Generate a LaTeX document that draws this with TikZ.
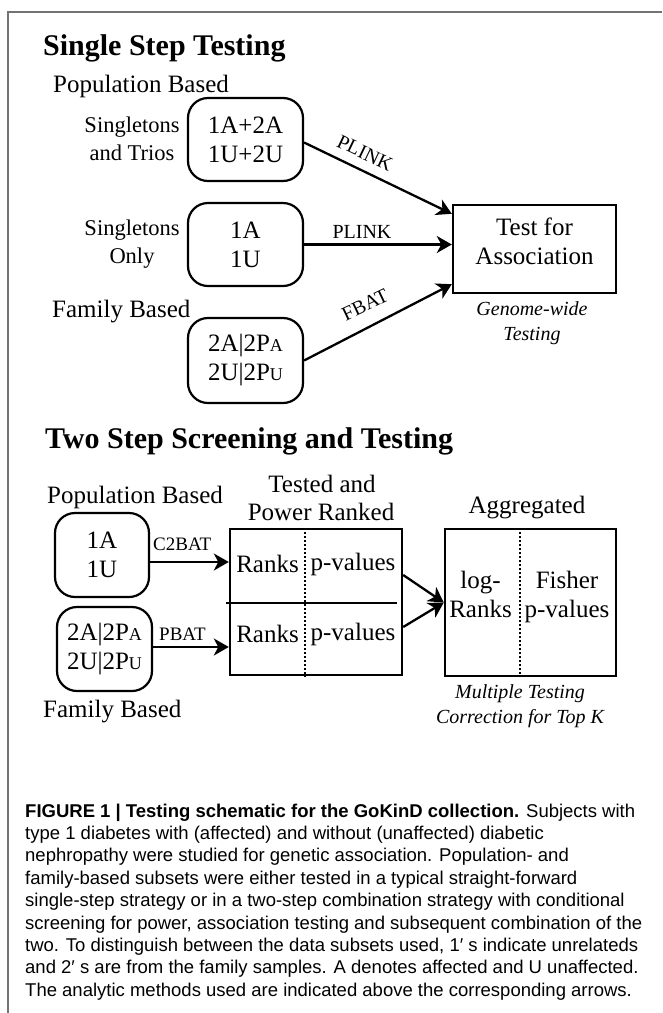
\documentclass[tikz,border=0pt]{standalone}
\usepackage{fontspec}
\setmainfont{Liberation Serif}
\newfontfamily\capfont{Liberation Sans}
\usetikzlibrary{arrows.meta}
\newcommand\mysmallcap[1]{{\fontsize{18}{18}\selectfont #1}}
\begin{document}
\begin{tikzpicture}[x=1pt,y=-1pt,
  titlefont/.style={font=\fontsize{30}{36}\selectfont\bfseries, inner sep=0pt},
  bigtext/.style={font=\fontsize{25}{30}\selectfont, inner sep=0pt},
  sidetext/.style={font=\fontsize{22.5}{28}\selectfont, inner sep=0pt},
  smalltext/.style={font=\fontsize{20}{24}\selectfont, inner sep=0pt},
  methodtext/.style={font=\fontsize{19}{22}\selectfont, inner sep=0pt},
  italtext/.style={font=\fontsize{20}{24}\selectfont\itshape, inner sep=0pt},
  captext/.style={font=\capfont\fontsize{18.5}{22}\selectfont, inner sep=0pt, anchor=base west},
  rbox/.style={draw, line width=2.2pt, rounded corners=20pt, align=center,
     font=\fontsize{25}{29}\selectfont, inner sep=2pt},
  sqbox/.style={draw, line width=2.4pt, inner sep=0pt},
  arr/.style={line width=2.3pt, -{Stealth[length=15pt,width=17pt,inset=4.5pt]}},
  plainline/.style={line width=2.3pt},
  dotline/.style={line width=1.6pt, dash pattern=on 2pt off 2pt},
  frameline/.style={draw=black!55, line width=1.3pt}
]
\useasboundingbox (0,0) rectangle (662,1013);
\fill[white] (0,0) rectangle (662,1013);
\draw[frameline] (662,12) -- (8,12) -- (8,1013);

% ---------- Single step testing ----------
\node[titlefont, anchor=base west] (t1) at (43,55) {Single Step Testing};
\node[bigtext, anchor=base west] (pop1) at (53,92) {Population Based};

\node[rbox, minimum width=115pt, minimum height=83pt] (b1) at (245.5,139.5) {1A+2A\\1U+2U};
\node[sidetext, anchor=base] (s1a) at (132,132) {Singletons};
\node[sidetext, anchor=base] (s1b) at (132,160) {and Trios};

\node[rbox, minimum width=115pt, minimum height=83pt] (b2) at (245.5,244.5) {1A\\1U};
\node[sidetext, anchor=base] (s2a) at (132,235) {Singletons};
\node[sidetext, anchor=base] (s2b) at (132,263) {Only};

\node[bigtext, anchor=base west] (fam1) at (52,317) {Family Based};
\node[rbox, minimum width=115pt, minimum height=85pt] (b3) at (245.5,360.5)
  {2A|2P\mysmallcap{A}\\2U|2P\mysmallcap{U}};

\node[sqbox, minimum width=163pt, minimum height=88pt] (test) at (534.5,249) {};
\node[bigtext, anchor=base] (test1) at (534.5,235) {Test for};
\node[bigtext, anchor=base] (test2) at (534.5,264) {Association};
\node[italtext, anchor=base] (gw1) at (532,315) {Genome-wide};
\node[italtext, anchor=base] (gw2) at (532,340) {Testing};

\coordinate (c1) at ([yshift=-3pt]b1.east);
\draw[arr] (c1) -- ([yshift=-10pt]test.north west);
\node[smalltext, rotate=-25.6] (l1) at (365,153) {PLINK};
\draw[arr] (b2.east) -- (b2.east -| test.west);
\node[smalltext, anchor=base] (l2) at (362,238) {PLINK};
\draw[arr] (b3.east) -- ([yshift=10pt]test.south west);
\node[smalltext, rotate=25.6] (l3) at (365,305) {FBAT};

% ---------- Two step screening and testing ----------
\node[titlefont, anchor=base west] (t2) at (45,448) {Two Step Screening and Testing};
\node[bigtext, anchor=base west] (pop2) at (47,503) {Population Based};
\node[rbox, minimum width=94pt, minimum height=84pt] (b4) at (102,555) {1A\\1U};
\node[rbox, minimum width=95pt, minimum height=84pt, inner sep=0pt] (b5) at (104.5,649)
  {2A|2P\mysmallcap{A}\\2U|2P\mysmallcap{U}};
\node[bigtext, anchor=base west] (fam2) at (43,717) {Family Based};

\node[sqbox, minimum width=172pt, minimum height=146pt] (tested) at (316,602) {};
\node[bigtext, anchor=base] (tn1) at (322,492) {Tested and};
\node[bigtext, anchor=base] (tn2) at (321,520) {Power Ranked};
\draw[plainline] ([xshift=-3pt,yshift=-1pt]tested.west) -- ([xshift=-6pt,yshift=-1pt]tested.east);
\draw[dotline] ([xshift=-11pt]tested.north) -- ([xshift=-11pt]tested.south);
\node[bigtext, anchor=base] (r1) at (267.5,572) {Ranks};
\node[bigtext, anchor=base] (p1) at (353,570) {p-values};
\node[bigtext, anchor=base] (r2) at (267.5,642) {Ranks};
\node[bigtext, anchor=base] (p2) at (353,640) {p-values};

\coordinate (c4) at ([yshift=-7pt]b4.east);
\draw[arr] (c4) -- (c4 -| tested.west);
\node[methodtext, anchor=base west] (m1) at (153,550) {C2BAT};
\coordinate (c5) at ([yshift=2pt]b5.east);
\draw[arr] (c5) -- (c5 -| tested.west);
\node[methodtext, anchor=base west] (m2) at (159,640) {PBAT};

\node[sqbox, minimum width=171pt, minimum height=147pt] (agg) at (530.5,602.5) {};
\node[bigtext, anchor=base] (ag) at (527,513) {Aggregated};
\draw[dotline] ([xshift=-10.5pt]agg.north) -- ([xshift=-10.5pt]agg.south);
\node[bigtext, anchor=base] (lg1) at (480.5,588) {log-};
\node[bigtext, anchor=base] (lg2) at (480.5,617) {Ranks};
\node[bigtext, anchor=base] (fi1) at (567,588) {Fisher};
\node[bigtext, anchor=base] (fi2) at (567,617) {p-values};
\node[italtext, anchor=base] (mt1) at (520,698) {Multiple Testing};
\node[italtext, anchor=base] (mt2) at (520,723) {Correction for Top K};

\draw[arr] ([yshift=27pt]tested.east) -- (agg.west);
\draw[arr] ([yshift=-25pt]tested.east) -- (agg.west);

% ---------- caption ----------
\node[captext] (cap1) at (25,817) {\textbf{FIGURE 1 | Testing schematic for the GoKinD collection.} Subjects with};
\node[captext] (cap2) at (25,839.4) {type 1 diabetes with (affected) and without (unaffected) diabetic};
\node[captext] (cap3) at (25,861.8) {nephropathy were studied for genetic association. Population- and};
\node[captext] (cap4) at (25,884.2) {family-based subsets were either tested in a typical straight-forward};
\node[captext] (cap5) at (25,906.6) {single-step strategy or in a two-step combination strategy with conditional};
\node[captext] (cap6) at (25,929) {screening for power, association testing and subsequent combination of the};
\node[captext] (cap7) at (25,951.4) {two. To distinguish between the data subsets used, 1′ s indicate unrelateds};
\node[captext] (cap8) at (25,973.8) {and 2′ s are from the family samples. A denotes affected and U unaffected.};
\node[captext] (cap9) at (25,996.2) {The analytic methods used are indicated above the corresponding arrows.};
\end{tikzpicture}
\end{document}
